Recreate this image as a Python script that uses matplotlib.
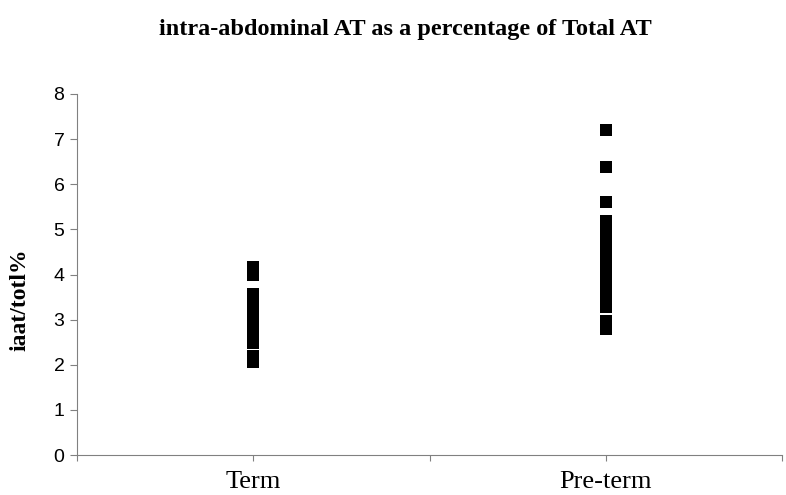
import numpy as np
from matplotlib import pyplot as plt

categories = ['Term', 'Pre-term']
term = [4.17, 3.99, 3.57, 3.35, 3.13, 2.91, 2.70, 2.48, 2.19, 2.06]
preterm = [7.21, 6.39, 5.60, 5.19, 4.97, 4.75, 4.53, 4.31, 4.09, 3.87,
           3.67, 3.47, 3.27, 2.97, 2.79]
yticks = [0, 1, 2, 3, 4, 5, 6, 7, 8]

fig = plt.figure(figsize=(7.86, 4.95), dpi=100)
ax = fig.add_axes([77/786, 1 - 455/495, 705/786, 361/495])

ax.plot(np.full(len(term), 1.0), term, 's', color='black', ms=8, mec='black', mew=0)
ax.plot(np.full(len(preterm), 2.0), preterm, 's', color='black', ms=8, mec='black', mew=0)

ax.set_xlim(0.5, 2.5)
ax.set_ylim(0, 8)
ax.set_yticks(yticks)
ax.set_yticklabels([str(v) for v in yticks], fontfamily='Liberation Sans', fontsize=14)
ax.set_xticks([0.5, 1, 1.5, 2, 2.5])
ax.set_xticklabels([])

for s in ['top', 'right']:
    ax.spines[s].set_visible(False)
for s in ['left', 'bottom']:
    ax.spines[s].set_color('#808080')
ax.tick_params(axis='both', colors='#808080', labelcolor='black', direction='out', length=5)
ax.tick_params(axis='x', length=4)
ax.tick_params(axis='y', pad=4)

for xi, lab in zip([1, 2], categories):
    ax.text(xi, -0.36, lab, ha='center', va='top', fontsize=19,
            fontfamily='Liberation Serif')

fig.text(405/786, 1 - 29/495, 'intra-abdominal AT as a percentage of Total AT',
         ha='center', va='center', fontsize=17.5, fontweight='bold',
         fontfamily='Liberation Serif')
fig.text(20/786, 1 - 300/495, 'iaat/totl%', rotation=90, ha='center', va='center',
         fontsize=17, fontweight='bold', fontfamily='Liberation Serif')

plt.savefig('out.png', dpi=100)
